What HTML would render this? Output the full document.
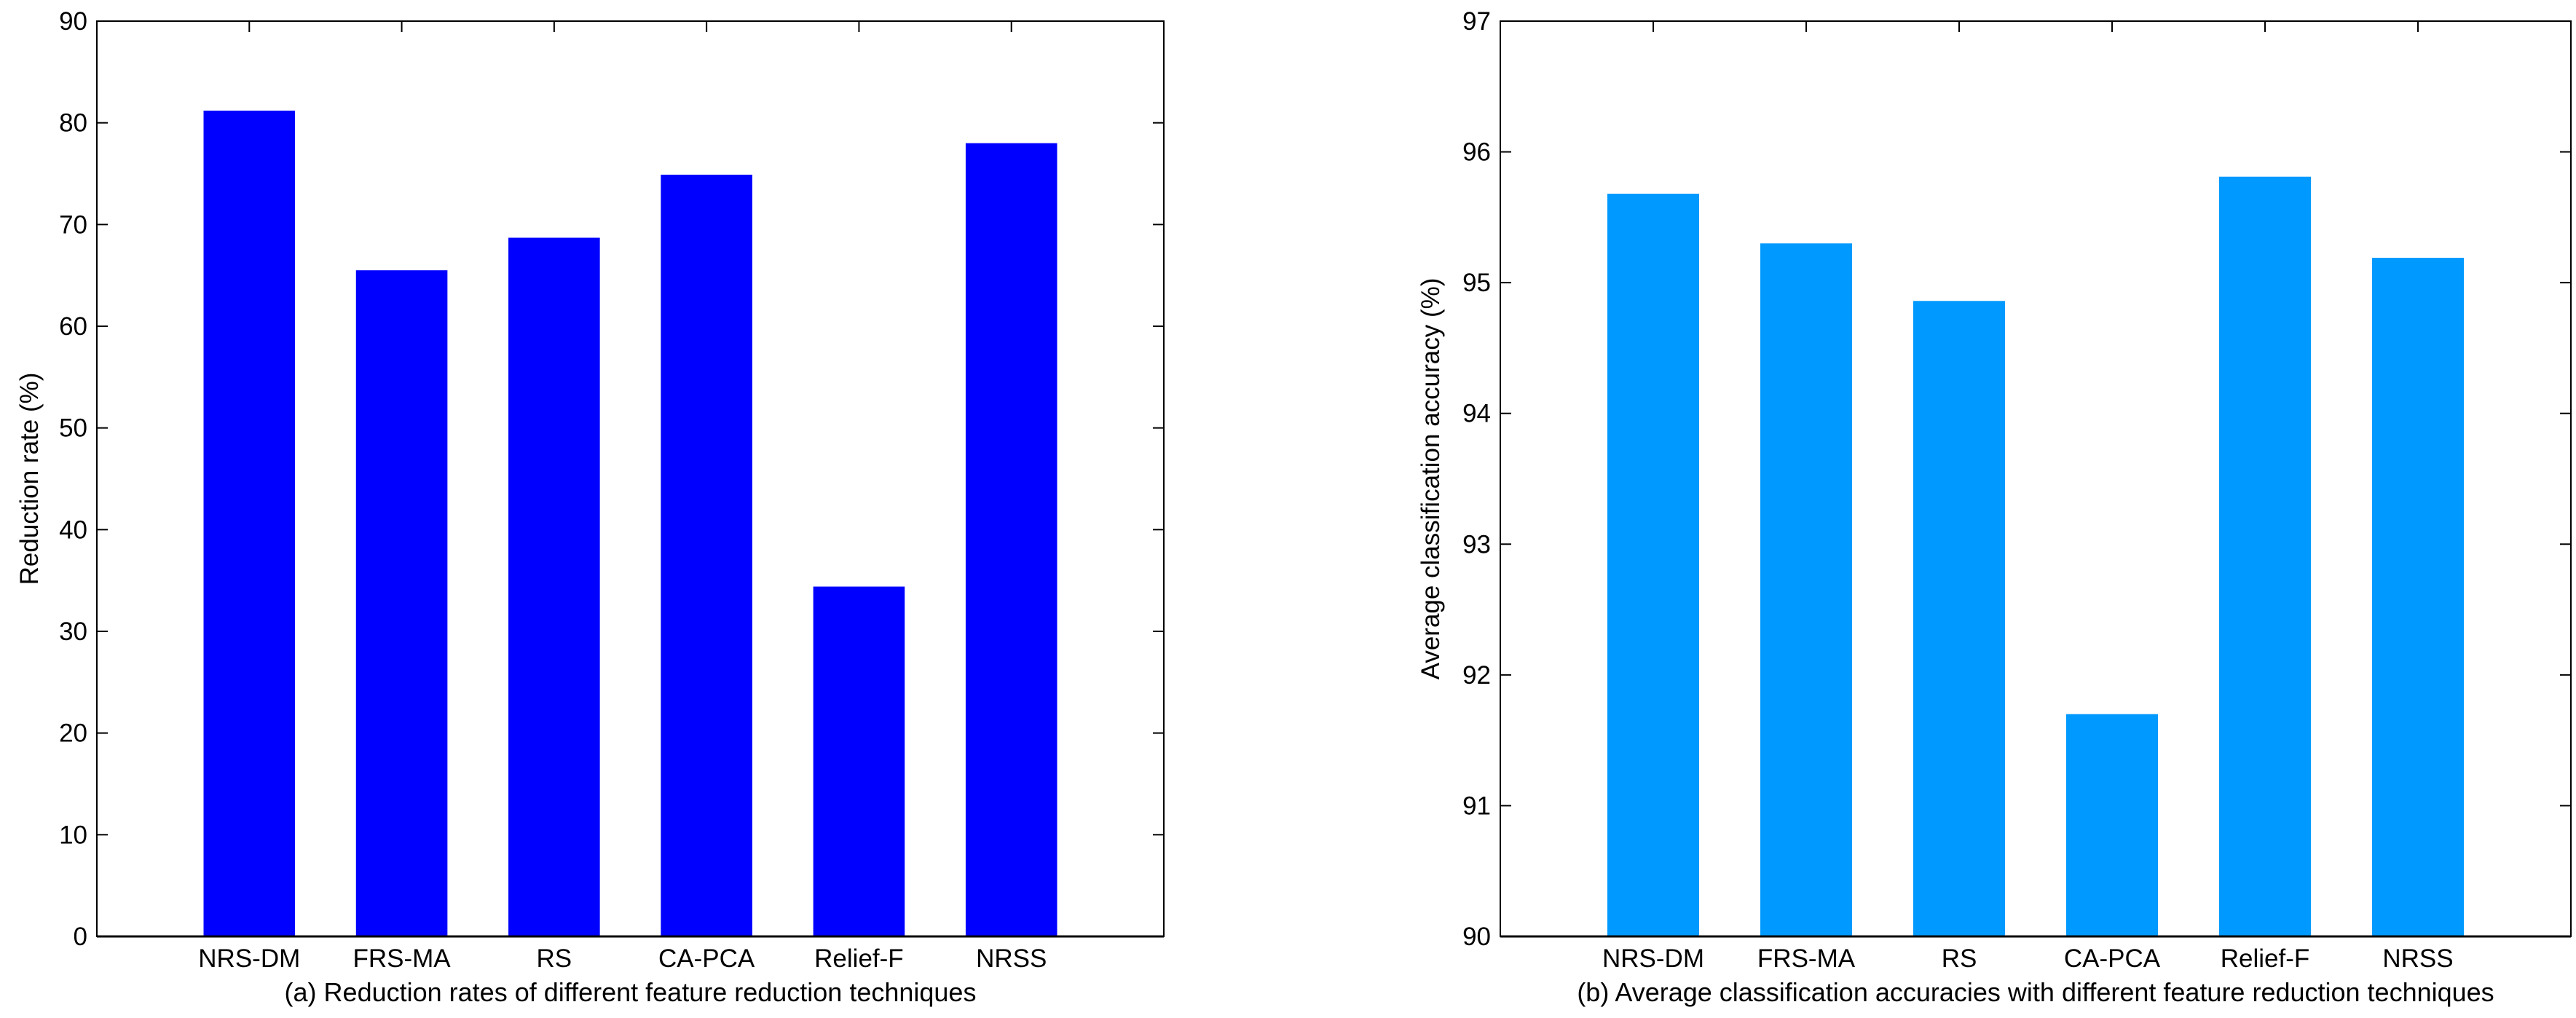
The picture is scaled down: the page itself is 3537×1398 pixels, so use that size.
<!DOCTYPE html>
<html><head><meta charset="utf-8"><style>
html,body{margin:0;padding:0;background:#fff;}
svg{display:block;font-family:"Liberation Sans",sans-serif;}
</style></head><body>
<svg id="fig" width="3537" height="1398" viewBox="0 0 3537 1398" xmlns="http://www.w3.org/2000/svg"></svg>
<script>
const categories = ["NRS-DM","FRS-MA","RS","CA-PCA","Relief-F","NRSS"];
const reductionRates = [81.2, 65.5, 68.7, 74.9, 34.4, 78.0];
const accuracies = [95.68, 95.3, 94.86, 91.7, 95.81, 95.19];
const ticksA = [0,10,20,30,40,50,60,70,80,90];
const ticksB = [90,91,92,93,94,95,96,97];

const NS = "http://www.w3.org/2000/svg";
const svg = document.getElementById('fig');
function mk(tag, attrs, parent){
  const e = document.createElementNS(NS, tag);
  for (const k in attrs) e.setAttribute(k, attrs[k]);
  (parent||svg).appendChild(e);
  return e;
}
function drawChart(cfg){
  const g = mk('g', {});
  
  
  const L=cfg.left, R=cfg.right, T=29, B=1286;
  const ymin=cfg.ticks[0], ymax=cfg.ticks[cfg.ticks.length-1];
  const y = v => B - (v-ymin)/(ymax-ymin)*(B-T);
  const step = (R-L)/(categories.length+1);
  const x = i => L + step*(i+1);
  const bw = step*0.6;
  cfg.values.forEach((v,i)=>{
    const r = mk('rect', {x:x(i)-bw/2, y:y(v), width:bw, height:B-y(v), fill:cfg.color}, g);
    
    
  });
  const box = mk('rect', {x:L, y:T, width:R-L, height:B-T, fill:'none', stroke:'#000', 'stroke-width':2}, g);
  
  
  mk('line', {x1:L, y1:B, x2:R, y2:B, stroke:'#000', 'stroke-width':3}, g);
  cfg.ticks.forEach(t=>{
    const yy=y(t);
    mk('line', {x1:L, y1:yy, x2:L+15, y2:yy, stroke:'#000', 'stroke-width':2}, g);
    mk('line', {x1:R, y1:yy, x2:R-15, y2:yy, stroke:'#000', 'stroke-width':2}, g);
    const tx = mk('text', {x:L-13, y:yy+12, 'font-size':35, 'text-anchor':'end', fill:'#000'}, g);
    
    
    tx.textContent = t;
  });
  categories.forEach((c,i)=>{
    mk('line', {x1:x(i), y1:T, x2:x(i), y2:T+15, stroke:'#000', 'stroke-width':2}, g);
    const tx = mk('text', {x:x(i), y:1328, 'font-size':35, 'text-anchor':'middle', fill:'#000'}, g);
    
    
    tx.textContent = c;
  });
  const yl = mk('text', {x:0, y:0, 'font-size':35, 'text-anchor':'middle', fill:'#000', transform:`translate(${cfg.ylx},${(T+B)/2}) rotate(-90)`}, g);
  
  
  yl.textContent = cfg.ylabel;
  const cap = mk('text', {x:(L+R)/2, y:1375, 'font-size':36, 'text-anchor':'middle', fill:'#000'}, g);
  
  
  cap.textContent = cfg.caption;
}
drawChart({name:'chart-reduction-rate', left:133, right:1598, ticks:ticksA, values:reductionRates, color:'#0000ff',
  ylx:52, ylabel:'Reduction rate (%)', caption:'(a) Reduction rates of different feature reduction techniques'});
drawChart({name:'chart-accuracy', left:2060, right:3530, ticks:ticksB, values:accuracies, color:'#0099ff',
  ylx:1976, ylabel:'Average classification accuracy (%)', caption:'(b) Average classification accuracies with different feature reduction techniques'});
</script>
</body></html>
